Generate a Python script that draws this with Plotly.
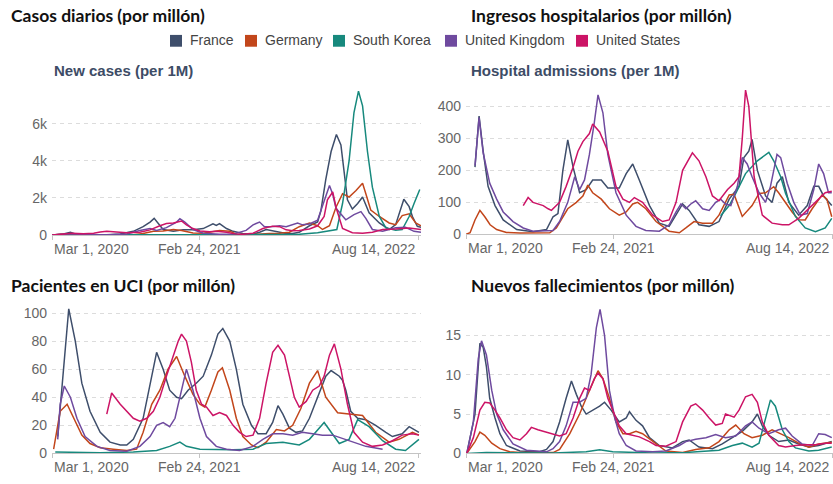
import plotly.graph_objects as go

W, H = 833, 484

COUNTRIES = ["France", "Germany", "South Korea", "United Kingdom", "United States"]
COLORS = ["#3E4E6B", "#C2461B", "#17897D", "#6F4A9F", "#CC1466"]

TICK_DATES = ["2020-03-01", "2021-02-24", "2022-08-14"]
TICK_TEXT = ["Mar 1, 2020", "Feb 24, 2021", "Aug 14, 2022"]

# ---- New cases per million (7-day average) ----
cases_france = [("2020-03-01", 0), ("2020-03-29", 60), ("2020-04-15", 150), ("2020-04-27", 60), ("2020-05-25", 10), ("2020-07-13", 10), ("2020-08-15", 60), ("2020-09-16", 200), ("2020-10-10", 450), ("2020-10-27", 700), ("2020-11-06", 900), ("2020-11-16", 600), ("2020-11-28", 300), ("2020-12-23", 200), ("2021-01-16", 280), ("2021-02-09", 290), ("2021-03-06", 350), ("2021-03-30", 600), ("2021-04-07", 520), ("2021-04-15", 620), ("2021-05-02", 350), ("2021-05-18", 200), ("2021-06-11", 80), ("2021-07-06", 50), ("2021-07-22", 150), ("2021-08-07", 300), ("2021-09-01", 200), ("2021-09-25", 80), ("2021-10-11", 80), ("2021-10-27", 150), ("2021-11-21", 500), ("2021-12-11", 700), ("2021-12-19", 1300), ("2021-12-31", 3000), ("2022-01-13", 4500), ("2022-01-26", 5420), ("2022-02-06", 4860), ("2022-02-13", 3450), ("2022-02-22", 1900), ("2022-03-06", 1400), ("2022-03-19", 1700), ("2022-03-31", 2050), ("2022-04-16", 1200), ("2022-05-11", 650), ("2022-06-04", 300), ("2022-06-20", 560), ("2022-07-10", 1930), ("2022-07-23", 1530), ("2022-07-31", 1000), ("2022-08-12", 470), ("2022-08-21", 420)]
cases_germany = [("2020-03-01", 0), ("2020-04-07", 60), ("2020-04-23", 40), ("2020-05-17", 15), ("2020-07-21", 10), ("2020-09-16", 20), ("2020-10-10", 80), ("2020-11-04", 200), ("2020-11-28", 220), ("2020-12-23", 300), ("2021-01-12", 250), ("2021-02-09", 110), ("2021-03-06", 100), ("2021-03-30", 200), ("2021-04-15", 250), ("2021-05-10", 200), ("2021-05-26", 50), ("2021-06-19", 10), ("2021-07-22", 30), ("2021-08-15", 80), ("2021-09-09", 100), ("2021-10-03", 150), ("2021-10-27", 450), ("2021-11-21", 650), ("2021-12-11", 500), ("2021-12-23", 300), ("2022-01-09", 500), ("2022-01-25", 1500), ("2022-02-10", 2230), ("2022-02-26", 2050), ("2022-03-15", 2400), ("2022-03-31", 2790), ("2022-04-08", 2230), ("2022-04-20", 1350), ("2022-05-11", 1000), ("2022-06-04", 650), ("2022-06-20", 560), ("2022-07-06", 1050), ("2022-07-23", 1140), ("2022-08-08", 650), ("2022-08-21", 500)]
cases_korea = [("2020-03-01", 10), ("2020-07-03", 2), ("2020-11-26", 10), ("2021-01-08", 20), ("2021-05-18", 12), ("2021-08-07", 35), ("2021-10-27", 40), ("2021-12-11", 130), ("2022-01-27", 300), ("2022-02-10", 1700), ("2022-02-26", 4000), ("2022-03-10", 6600), ("2022-03-21", 7750), ("2022-03-31", 6960), ("2022-04-12", 4500), ("2022-04-24", 2580), ("2022-05-11", 1000), ("2022-05-27", 390), ("2022-06-20", 260), ("2022-07-06", 300), ("2022-07-23", 1000), ("2022-08-04", 1700), ("2022-08-18", 2450)]
cases_uk = [("2020-03-01", 0), ("2020-04-15", 70), ("2020-05-25", 20), ("2020-07-21", 10), ("2020-08-31", 60), ("2020-10-02", 250), ("2020-10-27", 350), ("2020-11-12", 250), ("2020-12-06", 400), ("2020-12-31", 700), ("2021-01-08", 880), ("2021-01-20", 700), ("2021-02-09", 300), ("2021-03-06", 100), ("2021-04-15", 40), ("2021-05-18", 50), ("2021-06-19", 250), ("2021-07-06", 550), ("2021-07-22", 700), ("2021-08-03", 450), ("2021-08-19", 450), ("2021-09-09", 500), ("2021-09-25", 450), ("2021-10-11", 550), ("2021-10-23", 650), ("2021-11-04", 550), ("2021-11-21", 600), ("2021-12-11", 800), ("2021-12-27", 1800), ("2022-01-09", 2670), ("2022-01-17", 2200), ("2022-01-25", 1440), ("2022-02-18", 820), ("2022-03-10", 1100), ("2022-03-27", 1260), ("2022-04-08", 900), ("2022-04-24", 300), ("2022-05-19", 210), ("2022-06-20", 390), ("2022-07-14", 420), ("2022-08-04", 200), ("2022-08-21", 150)]
cases_us = [("2020-03-01", 0), ("2020-04-07", 60), ("2020-04-19", 90), ("2020-05-17", 70), ("2020-06-11", 100), ("2020-06-27", 170), ("2020-07-13", 200), ("2020-08-06", 160), ("2020-08-31", 120), ("2020-10-02", 150), ("2020-10-27", 280), ("2020-11-20", 500), ("2020-12-06", 620), ("2020-12-23", 650), ("2021-01-12", 760), ("2021-01-24", 550), ("2021-02-09", 350), ("2021-02-26", 220), ("2021-03-22", 180), ("2021-04-07", 210), ("2021-05-02", 150), ("2021-05-26", 50), ("2021-06-11", 40), ("2021-07-06", 100), ("2021-07-30", 350), ("2021-08-23", 480), ("2021-09-09", 450), ("2021-09-25", 280), ("2021-10-11", 230), ("2021-10-27", 250), ("2021-11-21", 330), ("2021-12-11", 500), ("2021-12-27", 1000), ("2022-01-04", 1900), ("2022-01-17", 2320), ("2022-01-25", 1500), ("2022-02-10", 350), ("2022-03-06", 130), ("2022-03-31", 100), ("2022-04-24", 150), ("2022-05-19", 300), ("2022-06-20", 320), ("2022-07-23", 380), ("2022-08-21", 300)]

# ---- Weekly hospital admissions per million ----
hosp_france = [("2020-03-23", 210), ("2020-04-02", 370), ("2020-04-12", 260), ("2020-04-24", 150), ("2020-05-11", 90), ("2020-05-31", 45), ("2020-07-03", 15), ("2020-08-12", 8), ("2020-09-14", 15), ("2020-09-30", 55), ("2020-10-12", 65), ("2020-10-24", 200), ("2020-11-05", 295), ("2020-11-18", 210), ("2020-12-04", 130), ("2020-12-20", 140), ("2021-01-05", 170), ("2021-01-26", 170), ("2021-02-11", 145), ("2021-03-11", 145), ("2021-03-28", 190), ("2021-04-13", 220), ("2021-04-29", 170), ("2021-05-24", 90), ("2021-06-17", 35), ("2021-07-11", 25), ("2021-08-13", 95), ("2021-08-29", 75), ("2021-09-22", 30), ("2021-10-17", 25), ("2021-11-10", 40), ("2021-12-05", 110), ("2021-12-29", 150), ("2022-01-10", 240), ("2022-01-22", 260), ("2022-01-30", 297), ("2022-02-12", 200), ("2022-03-04", 120), ("2022-03-20", 100), ("2022-04-01", 160), ("2022-04-14", 180), ("2022-04-30", 100), ("2022-05-24", 60), ("2022-06-14", 90), ("2022-06-30", 150), ("2022-07-12", 150), ("2022-07-24", 120), ("2022-08-13", 90)]
hosp_germany = [("2020-03-01", 0), ("2020-03-11", 5), ("2020-03-23", 45), ("2020-04-04", 75), ("2020-04-16", 55), ("2020-04-29", 30), ("2020-05-15", 15), ("2020-06-08", 6), ("2020-07-11", 4), ("2020-09-22", 5), ("2020-10-08", 20), ("2020-11-05", 80), ("2020-11-26", 100), ("2020-12-12", 120), ("2020-12-24", 154), ("2021-01-05", 130), ("2021-01-26", 110), ("2021-02-15", 80), ("2021-03-11", 60), ("2021-03-28", 70), ("2021-04-13", 95), ("2021-04-25", 100), ("2021-05-15", 80), ("2021-06-09", 40), ("2021-07-11", 10), ("2021-08-05", 5), ("2021-08-21", 20), ("2021-09-10", 40), ("2021-10-01", 35), ("2021-10-25", 35), ("2021-11-10", 60), ("2021-12-05", 123), ("2021-12-17", 125), ("2022-01-06", 56), ("2022-01-30", 90), ("2022-02-16", 128), ("2022-03-04", 130), ("2022-03-24", 149), ("2022-04-05", 130), ("2022-04-22", 100), ("2022-05-08", 70), ("2022-05-24", 46), ("2022-06-09", 45), ("2022-06-26", 80), ("2022-07-20", 123), ("2022-08-01", 110), ("2022-08-13", 55)]
hosp_korea = [("2021-11-14", 58), ("2021-12-05", 90), ("2021-12-21", 128), ("2022-01-14", 190), ("2022-02-12", 230), ("2022-02-28", 245), ("2022-03-12", 256), ("2022-03-24", 230), ("2022-04-10", 180), ("2022-04-22", 128), ("2022-05-16", 56), ("2022-06-09", 20), ("2022-07-04", 8), ("2022-07-28", 20), ("2022-08-13", 50)]
hosp_uk = [("2020-03-23", 215), ("2020-04-02", 365), ("2020-04-12", 255), ("2020-04-28", 160), ("2020-05-15", 110), ("2020-05-31", 70), ("2020-06-24", 40), ("2020-07-19", 20), ("2020-08-12", 10), ("2020-09-30", 12), ("2020-10-16", 40), ("2020-11-05", 100), ("2020-11-22", 180), ("2020-12-04", 140), ("2020-12-16", 170), ("2020-12-28", 250), ("2021-01-09", 350), ("2021-01-18", 436), ("2021-01-30", 380), ("2021-02-11", 250), ("2021-03-03", 130), ("2021-03-28", 60), ("2021-04-21", 25), ("2021-05-15", 12), ("2021-06-17", 10), ("2021-07-11", 30), ("2021-07-28", 70), ("2021-08-09", 95), ("2021-08-21", 80), ("2021-09-02", 95), ("2021-09-14", 105), ("2021-10-01", 80), ("2021-10-17", 75), ("2021-11-02", 100), ("2021-11-14", 110), ("2021-11-26", 95), ("2021-12-09", 90), ("2021-12-25", 150), ("2022-01-06", 240), ("2022-01-18", 220), ("2022-01-30", 180), ("2022-02-16", 130), ("2022-03-04", 100), ("2022-03-16", 150), ("2022-04-01", 250), ("2022-04-10", 240), ("2022-04-26", 160), ("2022-05-12", 100), ("2022-05-28", 60), ("2022-06-14", 65), ("2022-06-30", 140), ("2022-07-12", 220), ("2022-07-24", 190), ("2022-08-05", 130), ("2022-08-13", 130)]
hosp_us = [("2020-07-19", 90), ("2020-07-31", 115), ("2020-08-12", 100), ("2020-09-06", 90), ("2020-09-18", 80), ("2020-09-26", 75), ("2020-10-08", 90), ("2020-10-16", 100), ("2020-11-01", 150), ("2020-11-18", 210), ("2020-11-30", 260), ("2020-12-12", 290), ("2020-12-28", 315), ("2021-01-05", 345), ("2021-01-22", 320), ("2021-02-11", 260), ("2021-03-03", 150), ("2021-03-20", 110), ("2021-04-05", 100), ("2021-04-17", 115), ("2021-05-07", 100), ("2021-06-01", 60), ("2021-06-25", 40), ("2021-07-11", 45), ("2021-07-28", 100), ("2021-08-13", 200), ("2021-09-06", 255), ("2021-09-22", 230), ("2021-10-09", 180), ("2021-10-25", 120), ("2021-11-10", 105), ("2021-12-01", 140), ("2021-12-17", 160), ("2021-12-29", 180), ("2022-01-06", 300), ("2022-01-14", 451), ("2022-01-22", 400), ("2022-02-04", 180), ("2022-02-24", 60), ("2022-03-20", 35), ("2022-04-14", 30), ("2022-04-30", 30), ("2022-05-24", 50), ("2022-06-18", 80), ("2022-07-12", 110), ("2022-07-28", 130), ("2022-08-13", 135)]

# ---- ICU patients per million ----
icu_france = [("2020-03-15", 12), ("2020-04-11", 103), ("2020-04-27", 80), ("2020-05-13", 50), ("2020-06-02", 30), ("2020-06-27", 15), ("2020-07-21", 8), ("2020-08-15", 6), ("2020-08-31", 6), ("2020-09-16", 10), ("2020-10-10", 25), ("2020-10-31", 55), ("2020-11-12", 72), ("2020-11-28", 60), ("2020-12-14", 45), ("2020-12-31", 40), ("2021-01-12", 39), ("2021-01-28", 45), ("2021-02-17", 50), ("2021-03-06", 55), ("2021-03-26", 70), ("2021-04-11", 85), ("2021-04-23", 89), ("2021-05-10", 80), ("2021-05-26", 60), ("2021-06-11", 35), ("2021-07-02", 20), ("2021-07-18", 14), ("2021-08-07", 14), ("2021-08-23", 22), ("2021-09-05", 34), ("2021-09-17", 28), ("2021-10-03", 18), ("2021-10-19", 15), ("2021-11-04", 16), ("2021-11-21", 25), ("2021-12-11", 40), ("2021-12-31", 55), ("2022-01-13", 59), ("2022-02-02", 55), ("2022-02-10", 52), ("2022-02-18", 45), ("2022-03-02", 30), ("2022-03-19", 25), ("2022-04-08", 24), ("2022-05-02", 20), ("2022-05-27", 15), ("2022-06-12", 12), ("2022-07-06", 14), ("2022-07-23", 19), ("2022-08-16", 15)]
icu_germany = [("2020-03-05", 3), ("2020-03-21", 30), ("2020-04-07", 35), ("2020-04-23", 25), ("2020-05-13", 13), ("2020-06-02", 7), ("2020-06-27", 4), ("2020-07-29", 3), ("2020-08-31", 2), ("2020-09-24", 3), ("2020-10-10", 15), ("2020-10-31", 35), ("2020-11-20", 45), ("2020-12-10", 60), ("2020-12-31", 69), ("2021-01-20", 55), ("2021-02-09", 42), ("2021-02-26", 35), ("2021-03-10", 33), ("2021-03-26", 45), ("2021-04-11", 58), ("2021-04-22", 61), ("2021-05-10", 45), ("2021-05-26", 25), ("2021-06-11", 12), ("2021-07-02", 6), ("2021-07-18", 4), ("2021-08-07", 8), ("2021-09-01", 17), ("2021-09-21", 16), ("2021-10-11", 20), ("2021-10-31", 32), ("2021-11-21", 50), ("2021-12-11", 59), ("2021-12-31", 40), ("2022-01-29", 29), ("2022-02-26", 28), ("2022-03-31", 27), ("2022-05-02", 15), ("2022-06-04", 8), ("2022-06-28", 10), ("2022-07-31", 15), ("2022-08-16", 13)]
icu_korea = [("2020-03-09", 1), ("2020-06-27", 0.5), ("2020-09-16", 1), ("2020-11-12", 2), ("2020-12-14", 5), ("2021-01-08", 8), ("2021-01-24", 5), ("2021-02-26", 3), ("2021-05-18", 2.5), ("2021-07-06", 3), ("2021-08-07", 7), ("2021-09-17", 8), ("2021-10-27", 6), ("2021-11-21", 10), ("2021-12-27", 22), ("2022-02-02", 7), ("2022-02-26", 10), ("2022-03-19", 24), ("2022-04-16", 19), ("2022-05-19", 9), ("2022-06-20", 3), ("2022-07-14", 2), ("2022-08-16", 10)]
icu_uk = [("2020-03-15", 10), ("2020-03-21", 35), ("2020-03-31", 48), ("2020-04-15", 40), ("2020-05-01", 25), ("2020-05-21", 12), ("2020-06-19", 5), ("2020-07-21", 2), ("2020-08-31", 1.5), ("2020-10-02", 5), ("2020-10-27", 12), ("2020-11-12", 20), ("2020-11-28", 22), ("2020-12-14", 19), ("2020-12-27", 25), ("2021-01-12", 45), ("2021-01-24", 60), ("2021-02-09", 45), ("2021-02-26", 25), ("2021-03-14", 12), ("2021-04-07", 5), ("2021-05-02", 3), ("2021-06-03", 2), ("2021-07-06", 5), ("2021-07-30", 10), ("2021-08-23", 14), ("2021-09-17", 14), ("2021-10-11", 13), ("2021-11-04", 15), ("2021-11-29", 14), ("2021-12-23", 13), ("2022-01-17", 13), ("2022-02-26", 9), ("2022-04-08", 5), ("2022-05-19", 3)]
icu_us = [("2020-07-13", 28), ("2020-07-25", 43), ("2020-08-15", 35), ("2020-08-31", 30), ("2020-09-16", 25), ("2020-10-02", 23), ("2020-10-19", 25), ("2020-11-04", 30), ("2020-11-20", 40), ("2020-12-06", 55), ("2020-12-23", 70), ("2021-01-04", 80), ("2021-01-12", 85), ("2021-01-24", 80), ("2021-02-05", 65), ("2021-02-17", 45), ("2021-03-02", 35), ("2021-03-14", 33), ("2021-03-30", 27), ("2021-04-15", 29), ("2021-05-02", 27), ("2021-05-18", 20), ("2021-06-03", 15), ("2021-06-19", 12), ("2021-07-06", 13), ("2021-07-22", 25), ("2021-08-07", 50), ("2021-08-23", 72), ("2021-09-05", 77), ("2021-09-21", 70), ("2021-10-03", 55), ("2021-10-15", 40), ("2021-10-27", 33), ("2021-11-13", 37), ("2021-11-29", 45), ("2021-12-15", 48), ("2021-12-27", 55), ("2022-01-09", 70), ("2022-01-21", 78), ("2022-02-06", 60), ("2022-02-22", 35), ("2022-03-10", 15), ("2022-03-31", 8), ("2022-04-24", 5), ("2022-05-19", 6), ("2022-06-12", 9), ("2022-07-06", 13), ("2022-07-31", 14), ("2022-08-16", 13)]

# ---- New deaths per million (7-day average) ----
deaths_france = [("2020-03-03", 0), ("2020-03-23", 5), ("2020-04-04", 14), ("2020-04-12", 13.5), ("2020-04-20", 11), ("2020-04-28", 7), ("2020-05-11", 4.5), ("2020-05-23", 2.5), ("2020-06-08", 1), ("2020-07-11", 0.3), ("2020-08-28", 0.2), ("2020-09-14", 0.5), ("2020-09-30", 1.5), ("2020-10-16", 4), ("2020-11-01", 7), ("2020-11-14", 9.2), ("2020-11-26", 7.5), ("2020-12-08", 6), ("2020-12-20", 5), ("2021-01-05", 5.5), ("2021-01-22", 6), ("2021-02-03", 6.5), ("2021-02-19", 5.5), ("2021-03-11", 4), ("2021-03-28", 4.5), ("2021-04-05", 5.3), ("2021-04-21", 4.2), ("2021-05-07", 3.5), ("2021-05-24", 2), ("2021-06-17", 1), ("2021-07-19", 0.7), ("2021-08-13", 1.5), ("2021-08-29", 1.7), ("2021-09-22", 0.8), ("2021-10-25", 0.6), ("2021-11-18", 1.2), ("2021-12-13", 2.0), ("2022-01-06", 2.8), ("2022-01-30", 4.0), ("2022-02-12", 5.0), ("2022-02-24", 3.5), ("2022-03-12", 2.3), ("2022-04-05", 1.5), ("2022-04-30", 1.7), ("2022-05-24", 1.2), ("2022-06-18", 0.8), ("2022-07-12", 1.0), ("2022-08-13", 1.5)]
deaths_germany = [("2020-03-03", 0), ("2020-03-23", 1.5), ("2020-04-04", 2.7), ("2020-04-16", 2.3), ("2020-05-03", 1.3), ("2020-05-23", 0.6), ("2020-06-16", 0.2), ("2020-07-11", 0.1), ("2020-09-30", 0.1), ("2020-10-16", 0.5), ("2020-11-10", 2.5), ("2020-12-04", 5), ("2020-12-20", 7), ("2021-01-05", 9), ("2021-01-18", 10.5), ("2021-01-30", 9.5), ("2021-02-15", 7), ("2021-03-03", 4), ("2021-03-20", 2.5), ("2021-04-05", 2.5), ("2021-04-21", 2.8), ("2021-05-07", 2.5), ("2021-06-01", 1.5), ("2021-07-03", 0.3), ("2021-08-13", 0.1), ("2021-09-14", 0.5), ("2021-10-17", 0.7), ("2021-11-10", 1.5), ("2021-12-05", 3.0), ("2021-12-21", 3.6), ("2022-01-10", 2.5), ("2022-01-30", 2.0), ("2022-02-24", 2.3), ("2022-03-20", 3.0), ("2022-04-05", 2.6), ("2022-04-30", 2.0), ("2022-05-24", 1.3), ("2022-06-18", 0.8), ("2022-07-12", 1.2), ("2022-08-13", 1.4)]
deaths_korea = [("2020-03-03", 0), ("2020-04-20", 0.1), ("2020-09-30", 0.05), ("2020-12-20", 0.2), ("2021-01-22", 0.45), ("2021-02-23", 0.2), ("2021-06-01", 0.05), ("2021-08-21", 0.1), ("2021-11-10", 0.4), ("2021-12-13", 1.0), ("2022-01-06", 1.3), ("2022-01-30", 0.8), ("2022-02-16", 1.3), ("2022-03-04", 4.5), ("2022-03-16", 6.8), ("2022-03-28", 6.0), ("2022-04-14", 3.0), ("2022-04-30", 1.5), ("2022-05-16", 0.7), ("2022-06-18", 0.3), ("2022-07-12", 0.4), ("2022-08-13", 0.8)]
deaths_uk = [("2020-03-03", 0), ("2020-03-19", 4), ("2020-03-31", 12), ("2020-04-08", 14.3), ("2020-04-20", 12.5), ("2020-05-03", 8), ("2020-05-15", 5), ("2020-05-31", 3), ("2020-06-24", 1.2), ("2020-07-27", 0.4), ("2020-09-14", 0.2), ("2020-09-30", 0.6), ("2020-10-16", 1.5), ("2020-11-01", 3.5), ("2020-11-18", 6.5), ("2020-12-04", 6.5), ("2020-12-20", 7), ("2021-01-01", 10), ("2021-01-14", 16), ("2021-01-23", 18.3), ("2021-02-03", 15), ("2021-02-15", 8), ("2021-02-28", 4.5), ("2021-03-11", 2.5), ("2021-03-28", 1), ("2021-04-21", 0.3), ("2021-06-01", 0.2), ("2021-07-03", 0.3), ("2021-08-05", 1), ("2021-08-21", 1.5), ("2021-09-14", 1.8), ("2021-10-09", 2.0), ("2021-11-02", 2.4), ("2021-11-26", 2.0), ("2021-12-21", 2.2), ("2022-01-14", 3.5), ("2022-01-30", 4.0), ("2022-02-16", 3.2), ("2022-03-12", 2.5), ("2022-04-05", 3.0), ("2022-04-22", 3.2), ("2022-05-08", 2.2), ("2022-06-01", 1.2), ("2022-06-26", 1.0), ("2022-07-12", 2.5), ("2022-07-28", 2.4), ("2022-08-13", 2.0)]
deaths_us = [("2020-03-03", 0), ("2020-03-19", 2), ("2020-04-04", 5.5), ("2020-04-16", 6.5), ("2020-04-28", 6.4), ("2020-05-11", 5.5), ("2020-05-23", 4.5), ("2020-06-08", 3), ("2020-06-24", 2), ("2020-07-11", 1.7), ("2020-07-27", 2.5), ("2020-08-08", 3.3), ("2020-08-24", 3.0), ("2020-09-14", 2.7), ("2020-09-30", 2.4), ("2020-10-16", 2.2), ("2020-11-01", 2.5), ("2020-11-18", 4.5), ("2020-12-04", 7.0), ("2020-12-16", 8.3), ("2020-12-28", 8.0), ("2021-01-09", 9.5), ("2021-01-18", 10.2), ("2021-01-30", 9.5), ("2021-02-11", 7), ("2021-02-23", 5.5), ("2021-03-11", 3.5), ("2021-03-28", 2.5), ("2021-04-13", 2.3), ("2021-04-29", 2.1), ("2021-05-24", 1.5), ("2021-06-09", 1.0), ("2021-07-03", 0.9), ("2021-07-28", 1.5), ("2021-08-13", 4.0), ("2021-09-02", 6.0), ("2021-09-14", 6.3), ("2021-10-01", 5.5), ("2021-10-17", 4.5), ("2021-11-02", 3.6), ("2021-11-18", 3.8), ("2021-11-26", 5.0), ("2021-12-17", 4.6), ("2021-12-29", 5.5), ("2022-01-14", 7.2), ("2022-01-30", 7.5), ("2022-02-12", 6.5), ("2022-02-24", 4.0), ("2022-03-12", 2.3), ("2022-04-05", 1.0), ("2022-04-22", 0.8), ("2022-05-16", 1.0), ("2022-06-09", 1.1), ("2022-07-04", 1.1), ("2022-07-28", 1.3), ("2022-08-13", 1.3)]

# ---- Panel layout (pixel boxes on the 833x484 canvas) ----
FONT = "Liberation Sans, Arial, sans-serif"
TITLE_FONT = "Lato, Open Sans, sans-serif"
TICK_COLOR = "#666666"


def px_x(px):
    return px / W


def px_y(py):
    return 1 - py / H


panels = [
    dict(series=[cases_france, cases_germany, cases_korea, cases_uk, cases_us],
         left=52, right=421, x_end="2022-08-21", top=88, bottom=239, y_max=8000,
         ticks=[0, 2000, 4000, 6000], ticktext=["0", "2k", "4k", "6k"],
         title="Casos diarios (por millón)", title_xy=(9, 16),
         subtitle="New cases (per 1M)", subtitle_xy=(52, 72)),
    dict(series=[hosp_france, hosp_germany, hosp_korea, hosp_uk, hosp_us],
         left=466, right=833, x_end="2022-08-16", top=88, bottom=238.3, y_max=462,
         ticks=[0, 100, 200, 300, 400], ticktext=["0", "100", "200", "300", "400"],
         title="Ingresos hospitalarios (por millón)", title_xy=(469, 16),
         subtitle="Hospital admissions (per 1M)", subtitle_xy=(469, 72)),
    dict(series=[icu_france, icu_germany, icu_korea, icu_uk, icu_us],
         left=52, right=421, x_end="2022-08-21", top=305, bottom=461, y_max=109.3,
         ticks=[0, 20, 40, 60, 80, 100], ticktext=["0", "20", "40", "60", "80", "100"],
         title="Pacientes en UCI (por millón)", title_xy=(9, 290),
         subtitle=None, subtitle_xy=None),
    dict(series=[deaths_france, deaths_germany, deaths_korea, deaths_uk, deaths_us],
         left=466, right=833, x_end="2022-08-16", top=305, bottom=461, y_max=19.5,
         ticks=[0, 5, 10, 15], ticktext=["0", "5", "10", "15"],
         title="Nuevos fallecimientos (por millón)", title_xy=(469, 290),
         subtitle=None, subtitle_xy=None),
]

fig = go.Figure()
annotations = []
shapes = []
layout_axes = {}

for i, p in enumerate(panels):
    n = "" if i == 0 else str(i + 1)
    xref, yref = "x" + n, "y" + n
    for country, color, pts in zip(COUNTRIES, COLORS, p["series"]):
        fig.add_trace(go.Scatter(
            x=[d for d, _ in pts], y=[v for _, v in pts],
            mode="lines", name=country, showlegend=False,
            line=dict(color=color, width=1.5),
            xaxis=xref, yaxis=yref, cliponaxis=True,
        ))
    layout_axes["xaxis" + n] = dict(
        domain=[px_x(p["left"]), px_x(p["right"])],
        range=["2020-03-01", p["x_end"]], type="date",
        anchor=yref, showgrid=False, zeroline=False,
        showline=True, linecolor="#c4c4c4", linewidth=1,
        ticks="outside", ticklen=4, tickcolor="#c4c4c4",
        tickvals=TICK_DATES, showticklabels=False, fixedrange=True,
    )
    layout_axes["yaxis" + n] = dict(
        domain=[px_y(p["bottom"]), px_y(p["top"])],
        range=[0, p["y_max"]], anchor=xref,
        tickvals=p["ticks"], ticktext=p["ticktext"],
        showgrid=True, gridcolor="#dcdcdc", gridwidth=1, griddash="4px,4px",
        zeroline=False, showline=False, ticks="",
        tickfont=dict(family=FONT, size=14, color=TICK_COLOR),
        ticklabelstandoff=4, fixedrange=True,
    )
    # date labels: first left-aligned, middle centred, last right-aligned
    for d, t, anchor in zip(TICK_DATES, TICK_TEXT, ["left", "center", "right"]):
        annotations.append(dict(
            x=d, y=0, xref=xref, yref=yref, text=t, showarrow=False,
            xanchor=anchor, yanchor="middle", yshift=-14,
            font=dict(family=FONT, size=14, color=TICK_COLOR),
        ))
    tx, ty = p["title_xy"]
    annotations.append(dict(
        x=px_x(tx), y=px_y(ty), xref="paper", yref="paper",
        text="<b>" + p["title"] + "</b>", showarrow=False,
        xanchor="left", yanchor="middle",
        font=dict(family=TITLE_FONT, size=17.5, color="#111111"),
    ))
    if p["subtitle"]:
        sx, sy = p["subtitle_xy"]
        annotations.append(dict(
            x=px_x(sx), y=px_y(sy), xref="paper", yref="paper",
            text="<b>" + p["subtitle"] + "</b>", showarrow=False,
            xanchor="left", yanchor="middle",
            font=dict(family=FONT, size=15, color="#3d4c66"),
        ))

# shared legend with colour swatches
LEGEND_X = [170, 245, 333, 445, 576]
for country, color, lx in zip(COUNTRIES, COLORS, LEGEND_X):
    shapes.append(dict(
        type="rect", xref="paper", yref="paper",
        x0=px_x(lx), x1=px_x(lx + 12), y0=px_y(47.5), y1=px_y(35.5),
        fillcolor=color, line=dict(width=0),
    ))
    annotations.append(dict(
        x=px_x(lx + 18), y=px_y(41), xref="paper", yref="paper",
        text=country, showarrow=False, xanchor="left", yanchor="middle",
        font=dict(family=FONT, size=14, color="#444444"),
    ))

fig.update_layout(
    width=W, height=H, autosize=False,
    margin=dict(l=0, r=0, t=0, b=0),
    paper_bgcolor="white", plot_bgcolor="white",
    showlegend=False,
    annotations=annotations, shapes=shapes,
    **layout_axes,
)

fig.write_html("out.html")
